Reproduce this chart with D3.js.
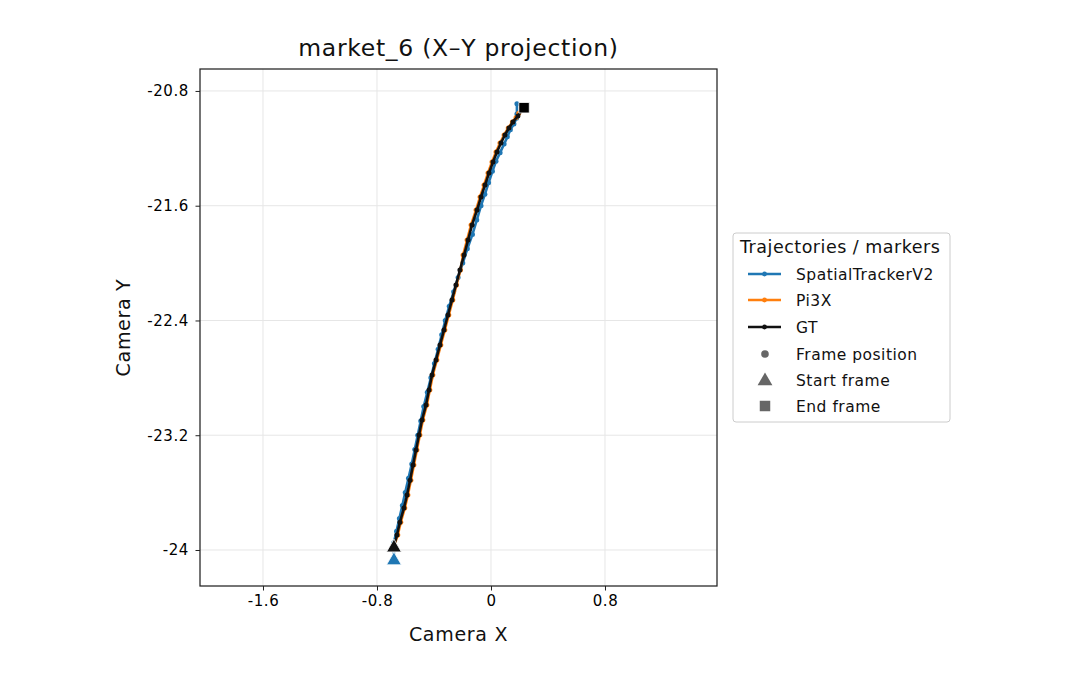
<!DOCTYPE html>
<html><head><meta charset="utf-8">
<script src="https://cdn.jsdelivr.net/npm/d3@7"></script>
<style>body{margin:0;background:#fff}text{font-family:"DejaVu Sans",sans-serif}</style>
</head><body><svg id="c" width="1080" height="690"></svg>
<script>
const chartTitle = "market_6 (X–Y projection)";
const xLabel = "Camera X", yLabel = "Camera Y";
const xTicks = [-1.6, -0.8, 0, 0.8];
const yTicks = [-20.8, -21.6, -22.4, -23.2, -24];
const xTickLabels = ["-1.6", "-0.8", "0", "0.8"];
const yTickLabels = ["-20.8", "-21.6", "-22.4", "-23.2", "-24"];

const gtX = [-0.681,-0.660,-0.639,-0.611,-0.589,-0.568,-0.547,-0.526,-0.505,-0.484,-0.456,-0.435,-0.414,-0.386,-0.358,-0.330,-0.302,-0.274,-0.246,-0.218,-0.189,-0.161,-0.133,-0.098,-0.070,-0.042,-0.014,0.014,0.042,0.070,0.098,0.126,0.154,0.189,0.232];
const gtY = [-23.973,-23.896,-23.806,-23.708,-23.617,-23.513,-23.408,-23.303,-23.199,-23.094,-22.990,-22.885,-22.780,-22.676,-22.571,-22.467,-22.362,-22.257,-22.153,-22.048,-21.944,-21.839,-21.734,-21.630,-21.539,-21.456,-21.372,-21.295,-21.225,-21.163,-21.107,-21.058,-21.016,-20.974,-20.910];

const stX = [-0.681,-0.682,-0.663,-0.643,-0.622,-0.602,-0.579,-0.556,-0.535,-0.514,-0.493,-0.472,-0.447,-0.422,-0.397,-0.371,-0.346,-0.321,-0.293,-0.262,-0.231,-0.198,-0.166,-0.130,-0.100,-0.070,-0.043,-0.017,0.010,0.035,0.064,0.092,0.115,0.136,0.161,0.179,0.182,0.182];
const stY = [-24.063,-23.95,-23.87,-23.78,-23.69,-23.60,-23.50,-23.40,-23.30,-23.20,-23.10,-23.00,-22.90,-22.80,-22.70,-22.60,-22.50,-22.40,-22.30,-22.20,-22.10,-22.00,-21.90,-21.80,-21.70,-21.60,-21.52,-21.44,-21.36,-21.29,-21.23,-21.17,-21.12,-21.07,-21.03,-20.99,-20.96,-20.89];

const piX = [-0.681,-0.654,-0.633,-0.605,-0.583,-0.562,-0.541,-0.520,-0.499,-0.478,-0.450,-0.429,-0.408,-0.380,-0.352,-0.324,-0.296,-0.268,-0.242,-0.214,-0.196,-0.168,-0.140,-0.105,-0.077,-0.049,-0.021,0.007,0.035,0.063,0.092,0.121,0.150,0.176,0.195];
const piY = [-23.973,-23.896,-23.806,-23.708,-23.617,-23.513,-23.408,-23.303,-23.199,-23.094,-22.990,-22.885,-22.780,-22.676,-22.571,-22.467,-22.362,-22.257,-22.153,-22.048,-21.944,-21.839,-21.734,-21.630,-21.539,-21.456,-21.372,-21.295,-21.225,-21.163,-21.107,-21.058,-21.016,-20.985,-20.955];

const seriesNames = ["SpatialTrackerV2", "Pi3X", "GT"];
const seriesColors = ["#1f77b4", "#ff7f0e", "#111111"];
const markerNames = ["Frame position", "Start frame", "End frame"];
const legendTitle = "Trajectories / markers";

const svg = d3.select("#c");
const L = 200, R = 717, T = 69, B = 586;
const x = d3.scaleLinear().domain([-2.042, 1.586]).range([L, R]);
const y = d3.scaleLinear().domain([-24.251, -20.647]).range([B, T]);

// grid
const g = svg.append("g");
g.selectAll(".gx").data(xTicks).enter().append("line")
  .attr("x1", d => x(d)).attr("x2", d => x(d)).attr("y1", T).attr("y2", B)
  .attr("stroke", "#e6e6e6").attr("stroke-width", 1);
g.selectAll(".gy").data(yTicks).enter().append("line")
  .attr("y1", d => y(d)).attr("y2", d => y(d)).attr("x1", L).attr("x2", R)
  .attr("stroke", "#e6e6e6").attr("stroke-width", 1);

// axes
const xAxis = d3.axisBottom(x).tickValues(xTicks).tickSize(4.5).tickPadding(5)
  .tickFormat((d, i) => xTickLabels[i]);
const yAxis = d3.axisLeft(y).tickValues(yTicks).tickSize(4.5).tickPadding(5)
  .tickFormat((d, i) => yTickLabels[i]);
const ax = svg.append("g").attr("transform", `translate(0,${B})`).call(xAxis);
const ay = svg.append("g").attr("transform", `translate(${L},0)`).call(yAxis);
[ax, ay].forEach(a => {
  a.select(".domain").remove();
  a.selectAll("text").attr("font-size", 15).attr("fill", "#000")
    .style("font-family", "DejaVu Sans").style("letter-spacing", "0.6px");
  a.selectAll("line").attr("stroke", "#222");
});
ay.selectAll("text").attr("dx", "-0.1em");

// data
const series = [
  {name: seriesNames[0], color: seriesColors[0], xs: stX, ys: stY},
  {name: seriesNames[1], color: seriesColors[1], xs: piX, ys: piY},
  {name: seriesNames[2], color: seriesColors[2], xs: gtX, ys: gtY}
];
const line = d3.line().x(d => x(d[0])).y(d => y(d[1]));
svg.append("clipPath").attr("id", "cl").append("rect")
  .attr("x", L).attr("y", T).attr("width", R - L).attr("height", B - T);
const plot = svg.append("g").attr("clip-path", "url(#cl)");
series.forEach(s => {
  const pts = s.xs.map((v, i) => [v, s.ys[i]]);
  plot.append("path").datum(pts).attr("d", line).attr("fill", "none")
    .attr("stroke", s.color).attr("stroke-width", 2.6).attr("stroke-linejoin", "round");
  plot.selectAll(null).data(pts).enter().append("circle")
    .attr("cx", d => x(d[0])).attr("cy", d => y(d[1])).attr("r", 2.5)
    .attr("fill", s.color);
});
const tri = d3.symbol().type(d3.symbolTriangle).size(95);
const sq = d3.symbol().type(d3.symbolSquare).size(110);
// start markers
series.forEach(s => {
  if (s.name === "Pi3X") return;
  plot.append("path").attr("d", tri)
    .attr("transform", `translate(${x(s.xs[0])},${y(s.ys[0]) + 1.5})`)
    .attr("fill", s.color).attr("stroke", "#fff").attr("stroke-width", 0.8);
});
// end marker for GT
plot.append("path").attr("d", sq)
  .attr("transform", `translate(${x(gtX[gtX.length - 1])},${y(gtY[gtY.length - 1]) + 1})`)
  .attr("fill", "#000").attr("stroke", "#fff").attr("stroke-width", 0.8);

// frame
svg.append("rect").attr("x", L).attr("y", T).attr("width", R - L).attr("height", B - T)
  .attr("fill", "none").attr("stroke", "#222").attr("stroke-width", 1.25);

// titles
svg.append("text").attr("x", (L + R) / 2).attr("y", 56).attr("text-anchor", "middle")
  .attr("font-size", 23.5).attr("fill", "#111").style("letter-spacing", "0.7px").text(chartTitle);
svg.append("text").attr("x", (L + R) / 2).attr("y", 641).attr("text-anchor", "middle")
  .attr("font-size", 19).attr("fill", "#111").style("letter-spacing", "0.7px").text(xLabel);
svg.append("text").attr("transform", `translate(130,${(T + B) / 2}) rotate(-90)`)
  .attr("text-anchor", "middle").attr("font-size", 19).attr("fill", "#111").style("letter-spacing", "0.7px").text(yLabel);

// legend
const lg = svg.append("g");
lg.append("rect").attr("x", 733).attr("y", 233).attr("width", 217).attr("height", 189)
  .attr("rx", 3).attr("fill", "#fff").attr("stroke", "#cccccc").attr("stroke-width", 1);
lg.append("text").attr("x", 740).attr("y", 253).attr("font-size", 17.5).attr("fill", "#111")
  .style("letter-spacing", "0.5px").text(legendTitle);
const rowY = [274, 300, 327, 354, 380, 406];
series.forEach((s, i) => {
  lg.append("line").attr("x1", 748).attr("x2", 781).attr("y1", rowY[i]).attr("y2", rowY[i])
    .attr("stroke", s.color).attr("stroke-width", 2.6);
  lg.append("circle").attr("cx", 764.5).attr("cy", rowY[i]).attr("r", 2.4).attr("fill", s.color);
  lg.append("text").attr("x", 796).attr("y", rowY[i] + 5.5).attr("font-size", 15.5).attr("fill", "#111")
    .style("letter-spacing", "0.5px").text(s.name);
});
const mk = [d3.symbol().type(d3.symbolCircle).size(45), d3.symbol().type(d3.symbolTriangle).size(95), d3.symbol().type(d3.symbolSquare).size(110)];
markerNames.forEach((m, j) => {
  const ry = rowY[3 + j];
  lg.append("path").attr("d", mk[j]).attr("transform", `translate(765,${ry + (j === 1 ? 1 : 0)})`).attr("fill", "#666");
  lg.append("text").attr("x", 796).attr("y", ry + 5.5).attr("font-size", 15.5).attr("fill", "#111")
    .style("letter-spacing", "0.5px").text(m);
});
</script></body></html>
